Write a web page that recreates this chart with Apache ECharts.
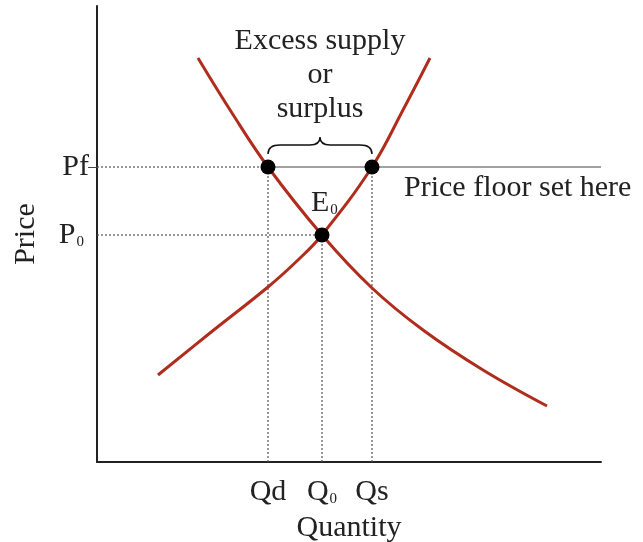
<!DOCTYPE html>
<html>
<head>
<meta charset="utf-8">
<script src="https://cdn.jsdelivr.net/npm/echarts@6/dist/echarts.min.js"></script>
<style>
  html, body { margin: 0; padding: 0; background: #fff; }
  #chart { width: 643px; height: 542px; }
</style>
</head>
<body>
<div id="chart"></div>
<script>
// curve points (quantity, price)
const demandQ = [101, 135, 171, 225, 275, 326, 386, 450]
const demandP = [404, 349, 295, 227, 174, 132, 92, 56]
const supplyQ = [61, 113, 171, 201, 225, 275, 306, 333]
const supplyP = [87, 129, 175, 202, 227, 295, 352, 404]

const qd = 171, q0 = 225, qs = 275
const pf = 295, p0 = 227
const qMax = 504, pMax = 456

const xLabels = { 171: 'Qd', 225: '{m|Q}{s|0}', 275: 'Qs' }
const yLabels = { 295: 'Pf', 227: '{m|P}{s|0}' }

const serif = 'Liberation Serif'
const fs = 30
const ink = '#222'
const red = '#b02c1c'
const dotted = { color: '#555', width: 1.2, type: [2, 2] }

const rich = {
  m: { fontFamily: serif, fontSize: fs, color: ink },
  s: { fontFamily: serif, fontSize: 15, color: ink, padding: [14, 0, 0, 1] }
}

function seg(a, b) {
  return { type: 'line', data: [a, b], symbol: 'none', silent: true, lineStyle: dotted, z: 1 }
}

const chart = echarts.init(document.getElementById('chart'))

chart.setOption({
  backgroundColor: '#fff',
  animation: false,
  grid: { left: 97, right: 42, top: 6, bottom: 80, outerBoundsMode: 'none', containLabel: false },
  xAxis: {
    type: 'value', min: 0, max: qMax,
    name: 'Quantity', nameLocation: 'middle', nameGap: 51,
    nameTextStyle: { fontFamily: serif, fontSize: fs, color: ink },
    axisLine: { lineStyle: { color: ink, width: 2 } },
    axisTick: { show: false },
    splitLine: { show: false },
    axisLabel: {
      customValues: [qd, q0, qs], margin: 15,
      formatter: v => xLabels[v],
      fontFamily: serif, fontSize: fs, color: ink,
      rich: rich
    }
  },
  yAxis: {
    type: 'value', min: 0, max: pMax,
    name: 'Price', nameLocation: 'middle', nameGap: 56, nameRotate: 90,
    nameTextStyle: { fontFamily: serif, fontSize: fs, color: ink },
    axisLine: { show: true, lineStyle: { color: ink, width: 2 } },
    axisTick: { show: true, customValues: [pf], length: 9, lineStyle: { color: '#444', width: 1 } },
    splitLine: { show: false },
    axisLabel: {
      customValues: [pf, p0], margin: 8,
      formatter: v => yLabels[v],
      fontFamily: serif, fontSize: fs, color: ink,
      rich: {
        m: rich.m,
        s: { fontFamily: serif, fontSize: 15, color: ink, padding: [14, 5, 0, 1] }
      }
    }
  },
  series: [
    seg([0, pf], [qd, pf]),
    seg([0, p0], [q0, p0]),
    seg([qd, 0], [qd, pf]),
    seg([q0, 0], [q0, p0]),
    seg([qs, 0], [qs, pf]),
    {
      type: 'line', data: [[qd, pf], [qMax, pf]], symbol: 'none', silent: true,
      lineStyle: { color: '#444', width: 1 }, z: 1
    },
    {
      type: 'line', smooth: 0.4, symbol: 'none',
      data: demandQ.map((q, i) => [q, demandP[i]]),
      lineStyle: { color: red, width: 3 }, z: 3
    },
    {
      type: 'line', smooth: 0.4, symbol: 'none',
      data: supplyQ.map((q, i) => [q, supplyP[i]]),
      lineStyle: { color: red, width: 3 }, z: 3
    },
    {
      type: 'scatter', symbolSize: 15,
      data: [[qd, pf], [qs, pf], [q0, p0]],
      itemStyle: { color: '#000', opacity: 1 }, z: 5
    },
    {
      // brace over the surplus
      type: 'custom', silent: true, z: 4,
      data: [[qd, qs, pf]],
      renderItem: function (params, api) {
        const a = api.coord([api.value(0), api.value(2)])
        const b = api.coord([api.value(1), api.value(2)])
        const x1 = a[0], x2 = b[0], m = (x1 + x2) / 2
        const y = a[1] - 22
        const d = 'M' + x1 + ',' + (y + 9) + ' Q' + x1 + ',' + y + ' ' + (x1 + 12) + ',' + y +
          ' L' + (m - 10) + ',' + y + ' Q' + m + ',' + y + ' ' + m + ',' + (y - 8) +
          ' Q' + m + ',' + y + ' ' + (m + 10) + ',' + y +
          ' L' + (x2 - 12) + ',' + y + ' Q' + x2 + ',' + y + ' ' + x2 + ',' + (y + 9)
        return {
          type: 'path',
          shape: { pathData: d },
          style: { fill: 'none', stroke: '#111', lineWidth: 1.5 }
        }
      }
    }
  ],
  graphic: [
    {
      type: 'text', x: 320, y: 24,
      style: {
        text: 'Excess supply\nor\nsurplus', align: 'center', verticalAlign: 'top',
        fontFamily: serif, fontSize: fs, lineHeight: 34, fill: ink
      }
    },
    {
      type: 'text', x: 404, y: 188,
      style: {
        text: 'Price floor set here', verticalAlign: 'middle',
        fontFamily: serif, fontSize: fs, fill: ink
      }
    },
    {
      type: 'text', x: 311, y: 188,
      style: {
        text: '{m|E}{s|0}',
        rich: {
          m: { fontFamily: serif, fontSize: fs, fill: ink },
          s: { fontFamily: serif, fontSize: 15, fill: ink, padding: [14, 0, 0, 1] }
        }
      }
    }
  ]
})
</script>
</body>
</html>
